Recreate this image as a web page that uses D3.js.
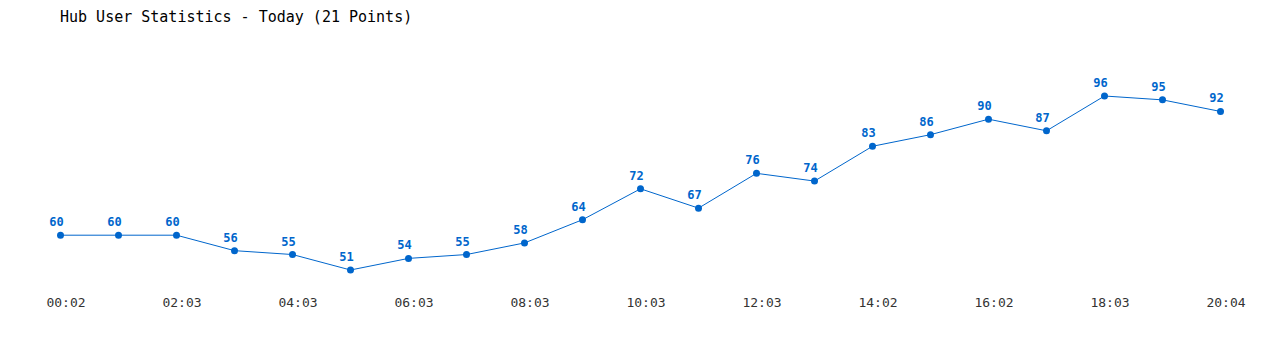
<!doctype html>
<html lang="en">
  <head>
    <meta charset="utf-8">
    <title>Hub User Statistics</title>
    <script src="https://d3js.org/d3.v7.min.js"></script>
    <style type="text/css">
      body { margin: 0; background-color: #ffffff; }
      text { font-family: "DejaVu Sans Mono", "Liberation Mono", monospace; }
    </style>
  </head>
  <body>
    <script>
      // data
      var users = [60, 60, 60, 56, 55, 51, 54, 55, 58, 64, 72, 67, 76, 74, 83, 86, 90, 87, 96, 95, 92];
      var tickLabels = ["00:02", "02:03", "04:03", "06:03", "08:03", "10:03", "12:03", "14:02", "16:02", "18:03", "20:04"];
      var title = "Hub User Statistics - Today (21 Points)";

      var w = 1280, h = 350;
      var blue = "#0066cc";

      var svg = d3.select("body").append("svg")
        .attr("width", w)
        .attr("height", h);

      var x = d3.scaleLinear()
        .domain([0, users.length - 1])
        .range([60.5, 1220.5]);

      var y = d3.scaleLinear()
        .domain([51, 96])
        .range([270, 96]);

      // title
      svg.append("text")
        .attr("x", 60)
        .attr("y", 22)
        .style("font-size", "15px")
        .style("fill", "#000")
        .text(title);

      // x axis labels (every second point)
      var xAxis = d3.axisBottom(x)
        .tickValues(tickLabels.map(function(d, i) { return i * 2; }))
        .tickFormat(function(d) { return tickLabels[d / 2]; })
        .tickSize(0)
        .tickPadding(0);

      var gx = svg.append("g")
        .attr("transform", "translate(5,298)")
        .call(xAxis);
      gx.select(".domain").remove();
      gx.selectAll("text")
        .style("font-family", "'DejaVu Sans Mono', monospace")
        .style("font-size", "13px")
        .style("fill", "#333");

      // line
      var line = d3.line()
        .x(function(d, i) { return x(i); })
        .y(function(d) { return y(d); });

      svg.append("path")
        .datum(users)
        .attr("d", line)
        .style("fill", "none")
        .style("stroke", blue)
        .style("stroke-width", 1);

      // points
      svg.selectAll("circle")
        .data(users)
        .enter()
        .append("circle")
        .attr("cx", function(d, i) { return x(i); })
        .attr("cy", function(d) { return y(d); })
        .attr("r", 3.5)
        .style("fill", blue);

      // value labels
      svg.selectAll(".val")
        .data(users)
        .enter()
        .append("text")
        .attr("class", "val")
        .attr("x", function(d, i) { return x(i) - 4; })
        .attr("y", function(d) { return y(d) - 9; })
        .attr("text-anchor", "middle")
        .style("font-size", "12px")
        .style("font-weight", "bold")
        .style("fill", blue)
        .text(function(d) { return d; });
    </script>
  </body>
</html>
